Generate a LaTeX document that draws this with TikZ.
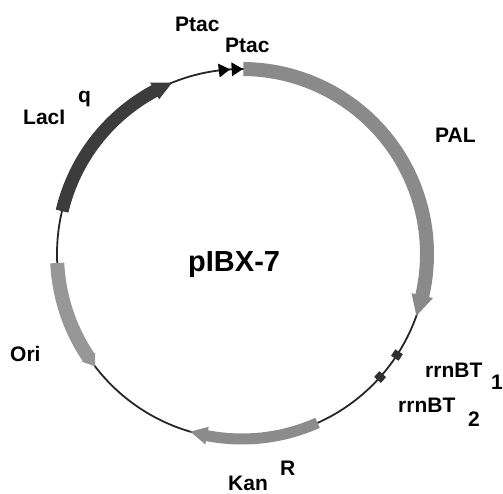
\documentclass[tikz,border=0pt]{standalone}
\usepackage{fontspec}
\setmainfont{Liberation Sans}
\definecolor{backbone}{HTML}{262626}
\definecolor{laccol}{HTML}{3C3C3C}
\definecolor{palcol}{HTML}{8A8A8A}
\definecolor{oricol}{HTML}{979797}
\definecolor{kancol}{HTML}{8C8C8C}
\definecolor{termcol}{HTML}{303030}
% gene arrow along the plasmid circle (radius 185):
% #1 colour, #2 start angle, #3 tip angle, #4 signed head length (deg),
% #5 half band width, #6 half head width
\newcommand\genearrow[6]{%
  \fill[#1] ({#2}:{185+#5}) arc[start angle={#2}, end angle={#3+(#4)}, radius={185+#5}]
    -- ({#3+(#4)}:{185+#6}) -- ({#3}:185) -- ({#3+(#4)}:{185-#6})
    -- ({#3+(#4)}:{185-#5}) arc[start angle={#3+(#4)}, end angle={#2}, radius={185-#5}]
    -- cycle;}
\tikzset{
  lbl/.style={font=\fontsize{21}{21}\selectfont\bfseries, inner sep=0pt, anchor=base west},
  title/.style={font=\fontsize{29}{29}\selectfont\bfseries, inner sep=0pt, anchor=base west},
}
\begin{document}
\begin{tikzpicture}[x=1pt,y=1pt]
\useasboundingbox (0,0) rectangle (503,494);
\begin{scope}[shift={(242,240)}]
  % backbone
  \draw[backbone, line width=1.8pt] (0,0) circle[radius=185];
  % LacI^q
  \genearrow{laccol}{166.6}{112.2}{6}{6.5}{9.5}
  % PAL
  \genearrow{palcol}{89.6}{-19.5}{6.5}{7}{11}
  % KanR
  \genearrow{kancol}{-65.9}{-106.2}{5.3}{5.5}{9}
  % Ori
  \genearrow{oricol}{182.8}{217.4}{-3.5}{7}{8}
  % Ptac promoters
  \fill[black] (97.2:192) -- (93.7:185) -- (97.2:178) -- cycle;
  \fill[black] (93.2:192) -- (89.7:185) -- (93.2:178) -- cycle;
  % rrnB terminators
  \draw[termcol, line width=9pt] (-31.9:185) arc[start angle=-31.9, end angle=-34.3, radius=185];
  \draw[termcol, line width=9pt] (-40.5:185) arc[start angle=-40.5, end angle=-42.9, radius=185];
\end{scope}
% labels
\node[lbl] (ptacA) at (175,462) {Ptac};
\node[lbl] (ptacB) at (225,441) {Ptac};
\node[lbl] (lacI) at (23,369) {LacI};
\node[lbl] (lacq) at (78,391) {q};
\node[lbl] (pal) at (435,351) {PAL};
\node[title] (name) at (188,222) {pIBX-7};
\node[lbl] (ori) at (10,132) {Ori};
\node[lbl] (rrnA) at (425,116) {rrnBT};
\node[lbl] (rrnAi) at (491,104) {1};
\node[lbl] (rrnB) at (398,81) {rrnBT};
\node[lbl] (rrnBi) at (468,67) {2};
\node[lbl] (kan) at (228,3) {Kan};
\node[lbl] (kanR) at (280,18) {R};
\end{tikzpicture}
\end{document}
